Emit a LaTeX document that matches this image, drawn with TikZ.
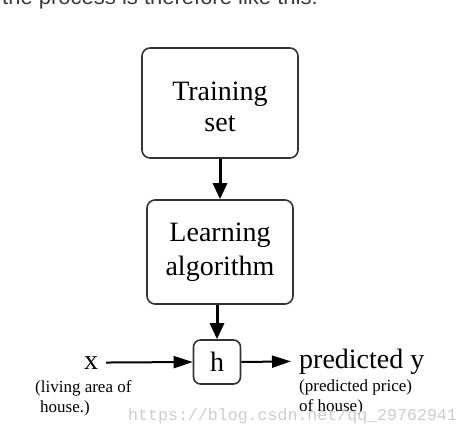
\documentclass[tikz,border=0pt]{standalone}
\usepackage{fontspec}
\setmainfont{Liberation Serif}
\setmonofont{Liberation Mono}
\newfontfamily\pagefont{Liberation Sans}
\usetikzlibrary{arrows.meta,positioning}
\definecolor{boxline}{HTML}{333333}
\definecolor{pagetext}{HTML}{3A3A3A}
\definecolor{stamp}{HTML}{CDCDCD}

\begin{document}
\begin{tikzpicture}[x=1pt,y=-1pt,
  stepbox/.style={draw=boxline,line width=1.6pt,rounded corners=8pt,fill=white,
    align=center,inner sep=0pt,font=\fontsize{28}{31}\selectfont},
  flow/.style={line width=3pt,-{Triangle[length=16pt,width=14pt]}},
  feed/.style={line width=2pt,-{Triangle[length=19pt,width=12pt]}},
  label/.style={inner sep=0pt,font=\fontsize{28}{31}\selectfont},
  note/.style={inner sep=0pt,align=left,font=\fontsize{17}{20}\selectfont}]
  \clip (0,0) rectangle (469,436);
  \fill[white] (0,0) rectangle (469,436);

  % caption line above the figure, cut at the top
  \node[anchor=base west,inner sep=0pt,text=pagetext,font=\pagefont\fontsize{22}{24}\selectfont]
    (lead) at (2,5) {the process is therefore like this:};

  % the three boxes
  \node[stepbox,minimum width=156pt,minimum height=110pt] (train) at (220,103) {\rule{0pt}{27pt}Training\\set};
  \node[stepbox,minimum width=146pt,minimum height=104pt] (learn) at (220,252) {Learning\\[3pt]algorithm};
  \node[stepbox,minimum width=47pt,minimum height=44pt,rounded corners=7pt] (hyp) at (217,362) {h};

  % input and output
  \node[label,anchor=base] (xin) at (91,369) {x};
  \node[label,anchor=base west] (pred) at (299,368) {predicted y};
  \node[note,anchor=base west] (xnote) at (35,412) {(living area of\\\hspace{5pt}house.)};
  \node[note,anchor=base west] (ynote) at (299,411) {(predicted price)\\of house)};

  \draw[flow] (train.south) -- (learn.north);
  \draw[flow] (learn.south -| hyp.north) -- (hyp.north);
  \draw[feed,shorten <=8pt] (xin.east) -- (hyp.west);
  \draw[feed,shorten >=8pt] (hyp.east) -- (pred.west);

  % blog stamp
  \node[anchor=base west,inner sep=0pt,text=stamp,font=\ttfamily\fontsize{16.6}{18}\selectfont]
    (mark) at (128,420) {https://blog.csdn.net/qq\_29762941};
\end{tikzpicture}
\end{document}
